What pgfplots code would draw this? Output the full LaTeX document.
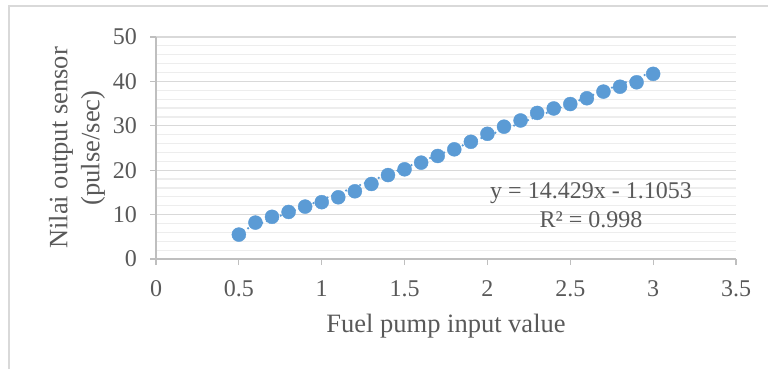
\documentclass[border=0pt]{standalone}
\usepackage{pgfplots}
\pgfplotsset{compat=1.18}
\usepackage{fontspec}
\setmainfont{Liberation Serif}
\definecolor{txt}{HTML}{595959}
\definecolor{ptblue}{HTML}{5B9BD5}
\definecolor{gridmaj}{HTML}{D9D9D9}
\definecolor{gridmin}{HTML}{EDEDED}
\definecolor{axgray}{HTML}{BFBFBF}
\begin{document}
\begin{tikzpicture}[x=1bp,y=1bp]
\useasboundingbox (0,0) rectangle (768,369);
\draw[gridmaj, line width=1.5bp] (9,0) -- (9,363) -- (768,363);
\begin{axis}[
  at={(156bp,110bp)}, anchor=south west,
  width=580bp, height=222bp, scale only axis,
  xmin=0, xmax=3.5, ymin=0, ymax=50,
  xtick={0,0.5,...,3.5}, ytick={0,10,...,50},
  xticklabels={0,0.5,1,1.5,2,2.5,3,3.5},
  minor y tick num=4,
  axis x line=bottom, axis y line=left,
  axis line style={axgray, line width=1.2bp, -},
  x axis line style={-}, y axis line style={-},
  ymajorgrids, yminorgrids,
  major grid style={gridmaj, line width=1.2bp},
  minor grid style={gridmin, line width=1.2bp},
  major tick length=6bp, minor tick length=0pt,
  tick style={axgray, line width=1.2bp},
  xtick pos=bottom, ytick pos=left,
  tick align=outside,
  /pgf/number format/assume math mode=true,
  ticklabel style={font=\fontsize{24bp}{29bp}\selectfont, text=txt, inner sep=0pt},
  xticklabel style={anchor=north, yshift=-15bp},
  yticklabel style={anchor=east, xshift=-13bp},
  xlabel={Fuel pump input value},
  ylabel={Nilai output sensor\\(pulse/sec)},
  label style={font=\fontsize{26.5bp}{32bp}\selectfont, text=txt},
  xlabel style={at={(axis description cs:0.5,-0.333)}, anchor=base},
  ylabel style={at={(axis description cs:-0.136,0.5)}, anchor=center, align=center},
  clip=false,
]
\addplot[ptblue, line width=2.5bp, dash pattern=on 0pt off 5bp, line cap=round] coordinates {(0.5,6.1092) (3.0,42.1817)};
\addplot[only marks, mark=*, mark size=7bp, mark options={draw=ptblue, fill=ptblue}] coordinates {
(0.5,5.5) (0.6,8.2) (0.7,9.5) (0.8,10.6) (0.9,11.8) (1.0,12.8)
(1.1,13.9) (1.2,15.25) (1.3,16.9) (1.4,18.9) (1.5,20.2) (1.6,21.7)
(1.7,23.2) (1.8,24.7) (1.9,26.4) (2.0,28.2) (2.1,29.8) (2.2,31.2)
(2.3,32.9) (2.4,33.9) (2.5,34.9) (2.6,36.2) (2.7,37.7) (2.8,38.8)
(2.9,39.8) (3.0,41.7)};
\node[align=center, text=txt, font=\fontsize{24bp}{29bp}\selectfont] at (axis cs:2.625,12.2) {y = 14.429x - 1.1053\\R² = 0.998};
\end{axis}
\end{tikzpicture}
\end{document}
